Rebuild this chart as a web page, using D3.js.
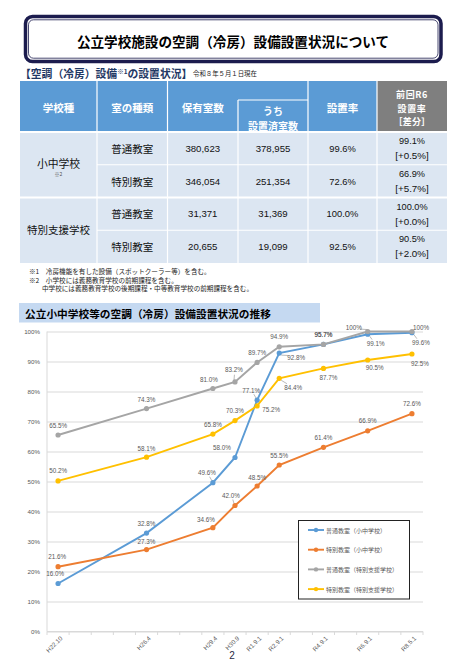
<!DOCTYPE html>
<html>
<head>
<meta charset="utf-8">
<script src="https://cdn.jsdelivr.net/npm/d3@7"></script>
<style>
  body { margin: 0; background: #fff; }
  svg { display: block; font-family: "Liberation Sans", "Noto Sans CJK JP", sans-serif; }
  .jp { font-family: "Noto Sans CJK JP", sans-serif; }
</style>
</head>
<body>
<script>
// 表のデータ
var schoolTypes = ["小中学校", "特別支援学校"];
var roomTypes = ["普通教室", "特別教室", "普通教室", "特別教室"];
var ownedRooms = [380623, 346054, 31371, 20655];
var installedRooms = [378955, 251354, 31369, 19099];
var installRates = [99.6, 72.6, 100.0, 92.5];
var prevRates = [99.1, 66.9, 100.0, 90.5];
var rateDiffs = [0.5, 5.7, 0.0, 2.0];

// 推移グラフのデータ
var axisYears = d3.range(2010, 2027);
var pointYears = [2010, 2014, 2017, 2018, 2019, 2020, 2022, 2024, 2026];
var pointLabels = ["H22.10", "H26.4", "H29.4", "H30.9", "R1.9.1", "R2.9.1", "R4.9.1", "R6.9.1", "R8.5.1"];
var seriesNames = ["普通教室（小中学校）", "特別教室（小中学校）", "普通教室（特別支援学校）", "特別教室（特別支援学校）"];
var normalElem = [16.0, 32.8, 49.6, 58.0, 77.1, 92.8, 95.7, 99.1, 99.6];
var specialElem = [21.6, 27.3, 34.6, 42.0, 48.5, 55.5, 61.4, 66.9, 72.6];
var normalSupport = [65.5, 74.3, 81.0, 83.2, 89.7, 94.9, 95.7, 100, 100];
var specialSupport = [50.2, 58.1, 65.8, 70.3, 75.2, 84.4, 87.7, 90.5, 92.5];
var yTicks = d3.range(0, 101, 10);

var colors = ["#5b9bd5", "#ed7d31", "#a5a5a5", "#ffc000"];
// ラベルのずらし量 [dx, dy, 引き出し線]
var labelOffsets = [
  [[-3,-10,0],[0,-10,0],[-6,-10,1],[-13,-10,0],[-6,-10,1],[17,4,1],[0,-10,0],[8,9,1],[9,10,1]],
  [[-1,-10,0],[0,-8,0],[-7,-8,0],[-4,-10,1],[0,-9,0],[0,-10,0],[0,-10,0],[0,-10,0],[0,-10,0]],
  [[0,-10,0],[0,-9,0],[-4,-9,0],[-1,-12,1],[0,-10,0],[0,-10,0],[0,-10,0],[-14,-4,1],[9,-4,0]],
  [[0,-10,0],[0,-9,0],[0,-10,0],[0,-10,0],[14,4,0],[14,9,1],[5,9,0],[7,7,0],[8,9,0]]
];

var svg = d3.select("body").append("svg")
  .attr("width", 464)
  .attr("height", 663);

// タイトル枠
svg.append("rect").attr("x", 25.5).attr("y", 16.5).attr("width", 415.5).attr("height", 45)
  .attr("rx", 7).attr("fill", "#fff").attr("stroke", "#1c1c4e").attr("stroke-width", 3.5);
svg.append("rect").attr("x", 28.5).attr("y", 19.8).attr("width", 409.5).attr("height", 38.4)
  .attr("rx", 5).attr("fill", "none").attr("stroke", "#1c1c4e").attr("stroke-width", 0.8);
svg.append("text").attr("class", "jp").attr("x", 233).attr("y", 46.5)
  .attr("text-anchor", "middle").attr("font-size", 13.6).attr("font-weight", 700)
  .text("公立学校施設の空調（冷房）設備設置状況について");

// 表の見出し
var sub = svg.append("text").attr("class", "jp").attr("x", 20).attr("y", 77.5)
  .attr("font-size", 10.8).attr("font-weight", 700).attr("fill", "#1f3864");
sub.append("tspan").text("【空調（冷房）設備");
sub.append("tspan").attr("font-size", 6.5).attr("dy", -3.5).text("※1");
sub.append("tspan").attr("dy", 3.5).text("の設置状況】");
svg.append("text").attr("class", "jp").attr("x", 193).attr("y", 76)
  .attr("font-size", 6.4).attr("fill", "#222").text("令和８年５月１日現在");

// 表
var colX = [20, 97, 167.5, 238, 308, 377, 447];
var headTop = 81, headBottom = 132, rowH = 32.75;
var rowTop = function(i) { return headBottom + i * rowH; };

var table = svg.append("g");
table.append("rect").attr("x", colX[0]).attr("y", headTop).attr("width", colX[5] - colX[0])
  .attr("height", headBottom - headTop).attr("fill", "#5b9bd5");
table.append("rect").attr("x", colX[5]).attr("y", headTop).attr("width", colX[6] - colX[5])
  .attr("height", headBottom - headTop).attr("fill", "#7f7f7f");
table.append("rect").attr("x", colX[0]).attr("y", headBottom).attr("width", colX[6] - colX[0])
  .attr("height", rowH * 4).attr("fill", "#dce6f2");

// 罫線（白）
var lineW = 1.2;
[1, 2, 4, 5].forEach(function(c) {
  table.append("line").attr("x1", colX[c]).attr("x2", colX[c])
    .attr("y1", headTop).attr("y2", rowTop(4)).attr("stroke", "#fff").attr("stroke-width", lineW);
});
table.append("line").attr("x1", colX[3]).attr("x2", colX[3])
  .attr("y1", 100).attr("y2", rowTop(4)).attr("stroke", "#fff").attr("stroke-width", lineW);
table.append("line").attr("x1", colX[3]).attr("x2", colX[4])
  .attr("y1", 100).attr("y2", 100).attr("stroke", "#fff").attr("stroke-width", lineW);
table.append("line").attr("x1", colX[0]).attr("x2", colX[6])
  .attr("y1", headBottom).attr("y2", headBottom).attr("stroke", "#fff").attr("stroke-width", lineW * 1.5);
[1, 3].forEach(function(r) {
  table.append("line").attr("x1", colX[1]).attr("x2", colX[6])
    .attr("y1", rowTop(r)).attr("y2", rowTop(r)).attr("stroke", "#fff").attr("stroke-width", lineW);
});
table.append("line").attr("x1", colX[0]).attr("x2", colX[6])
  .attr("y1", rowTop(2)).attr("y2", rowTop(2)).attr("stroke", "#fff").attr("stroke-width", lineW * 1.5);

var colMid = function(c) { return (colX[c] + colX[c + 1]) / 2; };
var headText = function(x, y, t, size) {
  return table.append("text").attr("class", "jp").attr("x", x).attr("y", y)
    .attr("text-anchor", "middle").attr("dominant-baseline", "central")
    .attr("font-size", size || 10.5).attr("font-weight", 700).attr("fill", "#fff").text(t);
};
headText(colMid(0), 107.5, "学校種");
headText(colMid(1), 107.5, "室の種類");
headText(colMid(2), 107.5, "保有室数");
headText(colMid(3), 110, "うち", 10);
headText(colMid(3), 125, "設置済室数", 10);
headText(colMid(4), 107.5, "設置率");
headText(colMid(5), 94.8, "前回R6", 9).attr("letter-spacing", 0.6);
headText(colMid(5), 108, "設置率", 9).attr("letter-spacing", 0.6);
headText(colMid(5), 121.2, "［差分］", 9).attr("letter-spacing", 0.3);

// 表の中身
var fmt = d3.format(",");
var bodyText = function(x, y, t, size, cls) {
  return table.append("text").attr("class", cls || null).attr("x", x).attr("y", y)
    .attr("text-anchor", "middle").attr("dominant-baseline", "central")
    .attr("font-size", size).attr("fill", "#111").text(t);
};
bodyText(colMid(0), rowTop(1) - 1.5, schoolTypes[0], 10.8, "jp");
bodyText(colMid(0), rowTop(1) + 9, "※2", 5, "jp").attr("fill", "#555");
bodyText(colMid(0), rowTop(3) - 0.5, schoolTypes[1], 10.5, "jp");

roomTypes.forEach(function(r, i) {
  var cy = rowTop(i) + rowH / 2;
  bodyText(colMid(1), cy, r, 10.5, "jp");
  bodyText(colMid(2), cy, fmt(ownedRooms[i]), 9.6);
  bodyText(colMid(3), cy, fmt(installedRooms[i]), 9.6);
  bodyText(colMid(4), cy, installRates[i].toFixed(1) + "%", 9.4);
  bodyText(colMid(5), cy - 7.2, prevRates[i].toFixed(1) + "%", 9.2);
  bodyText(colMid(5), cy + 7.2, "[+" + rateDiffs[i].toFixed(1) + "%]", 9.8);
});

// 注記
var notes = [
  [29, 271, "※1　冷房機能を有した設備（スポットクーラー等）を含む。"],
  [29, 279.5, "※2　小学校には義務教育学校の前期課程を含む。"],
  [42, 288, "中学校には義務教育学校の後期課程・中等教育学校の前期課程を含む。"]
];
svg.selectAll("text.note").data(notes).enter().append("text")
  .attr("class", "note jp")
  .attr("x", function(d) { return d[0]; })
  .attr("y", function(d) { return d[1]; })
  .attr("dominant-baseline", "central")
  .attr("font-size", 6.6).attr("fill", "#222")
  .text(function(d) { return d[2]; });

// グラフのタイトル
svg.append("rect").attr("x", 19).attr("y", 303).attr("width", 301).attr("height", 19.5).attr("fill", "#c5d9f1");
svg.append("text").attr("class", "jp").attr("x", 25).attr("y", 317.5)
  .attr("font-size", 10.7).attr("font-weight", 700).attr("fill", "#000")
  .text("公立小中学校等の空調（冷房）設備設置状況の推移");

// スケール
var x = d3.scaleBand().domain(axisYears).range([47, 423]).padding(0);
var y = d3.scaleLinear().domain([0, 100]).range([631.5, 331.5]);
var px = function(yr) { return x(yr) + x.bandwidth() / 2; };

var chart = svg.append("g");

// 目盛線
chart.append("g")
  .attr("transform", "translate(47,0)")
  .call(d3.axisLeft(y).tickValues(yTicks).tickSize(-376).tickFormat(function(d) { return d + "%"; }))
  .call(function(g) {
    g.select(".domain").remove();
    g.selectAll(".tick line").attr("stroke", "#d9d9d9").attr("stroke-width", 1);
    g.selectAll(".tick text").attr("x", -7).attr("font-size", 6.2).attr("fill", "#595959");
  });

// 軸線
chart.append("line").attr("x1", 47).attr("x2", 47).attr("y1", y(100)).attr("y2", y(0))
  .attr("stroke", "#d9d9d9");
chart.append("line").attr("x1", 47).attr("x2", 423).attr("y1", y(0)).attr("y2", y(0))
  .attr("stroke", "#d9d9d9");
chart.selectAll("line.xtick").data(axisYears.concat([2027])).enter().append("line")
  .attr("class", "xtick")
  .attr("x1", function(d) { return d === 2027 ? 423 : x(d); })
  .attr("x2", function(d) { return d === 2027 ? 423 : x(d); })
  .attr("y1", y(0)).attr("y2", y(0) + 3.5)
  .attr("stroke", "#d9d9d9");

// 横軸ラベル
chart.selectAll("text.xlab").data(pointYears).enter().append("text")
  .attr("class", "xlab")
  .attr("transform", function(d) { return "translate(" + (px(d) + 3) + "," + 637 + ") rotate(-45)"; })
  .attr("text-anchor", "end").attr("dominant-baseline", "central")
  .attr("font-size", 6.2).attr("fill", "#595959")
  .text(function(d, i) { return pointLabels[i]; });

// 折れ線
var allSeries = [normalElem, specialElem, normalSupport, specialSupport];
var line = d3.line()
  .x(function(d, i) { return px(pointYears[i]); })
  .y(function(d) { return y(d); });

allSeries.forEach(function(vals, s) {
  var g = chart.append("g");
  g.append("path").datum(vals).attr("d", line)
    .attr("fill", "none").attr("stroke", colors[s]).attr("stroke-width", 1.9);
  g.selectAll("circle").data(vals).enter().append("circle")
    .attr("cx", function(d, i) { return px(pointYears[i]); })
    .attr("cy", function(d) { return y(d); })
    .attr("r", 2.6).attr("fill", colors[s]);
});

// データラベル
allSeries.forEach(function(vals, s) {
  vals.forEach(function(v, i) {
    var cx = px(pointYears[i]), cy = y(v);
    var o = labelOffsets[s][i];
    if (o[2]) {
      chart.append("line")
        .attr("x1", cx + (o[0] > 0 ? 2 : -1)).attr("y1", cy + (o[1] > 0 ? 2 : -2))
        .attr("x2", cx + o[0] * 0.55).attr("y2", cy + o[1] * 0.6)
        .attr("stroke", "#8c8c8c").attr("stroke-width", 0.6);
    }
    chart.append("text")
      .attr("x", cx + o[0]).attr("y", cy + o[1])
      .attr("text-anchor", "middle").attr("dominant-baseline", "central")
      .attr("font-size", 6.3).attr("fill", "#595959")
      .text(v === 100 ? "100%" : v.toFixed(1) + "%");
  });
});

// 凡例
var legend = svg.append("g");
legend.append("rect").attr("x", 298.5).attr("y", 520.5).attr("width", 111).attr("height", 78.5)
  .attr("fill", "#fff").attr("stroke", "#222").attr("stroke-width", 1);
seriesNames.forEach(function(n, s) {
  var ly = 530 + s * 19.7;
  legend.append("line").attr("x1", 308).attr("x2", 324).attr("y1", ly).attr("y2", ly)
    .attr("stroke", colors[s]).attr("stroke-width", 1.9);
  legend.append("circle").attr("cx", 316).attr("cy", ly).attr("r", 2.2).attr("fill", colors[s]);
  legend.append("text").attr("class", "jp").attr("x", 326).attr("y", ly)
    .attr("dominant-baseline", "central").attr("font-size", 6).attr("fill", "#595959").text(n);
});

// ページ番号
svg.append("text").attr("x", 232).attr("y", 655).attr("text-anchor", "middle")
  .attr("dominant-baseline", "central").attr("font-size", 10).attr("fill", "#1f2a44").text("2");
</script>
</body>
</html>
